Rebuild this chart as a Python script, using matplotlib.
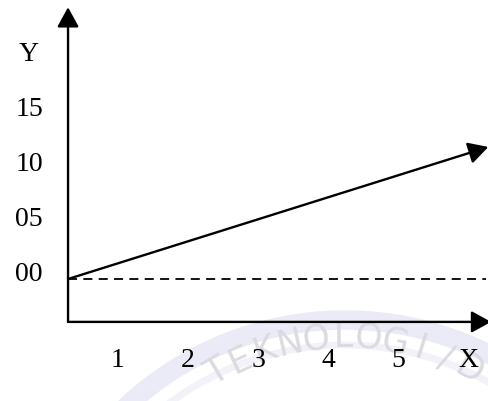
import matplotlib
matplotlib.use("Agg")
import numpy as np
import matplotlib.pyplot as plt
from matplotlib.patches import FancyArrowPatch, Arc

# ---- data ----
x_tick_pos = [1, 2, 3, 4, 5, 6]
x_tick_labels = ["1", "2", "3", "4", "5", "X"]
y_tick_pos = [0, 5, 10, 15, 20]
y_tick_labels = ["00", "05", "10", "15", "Y"]
line_x = [0.286, 6.29]
line_y = [0, 12]
dash_x = [0.286, 6.26]
dash_y = [0, 0]
axis_origin = (0.286, -3.9)
x_axis_end = 6.33
y_axis_end = 24.7
watermark_text = "TEKNOLOGI/D"

plt.rcParams["font.family"] = ["Liberation Serif", "DejaVu Serif"]

W, H = 489, 401
fig = plt.figure(figsize=(W / 100, H / 100), dpi=100)

# faint watermark layer (figure pixel coords, y measured from top)
wm = fig.add_axes([0, 0, 1, 1], zorder=0)
wm.set_xlim(0, W)
wm.set_ylim(H, 0)
wm.axis("off")
wm.add_patch(Arc((345, 640), 640, 640, theta1=-175, theta2=-20,
                 lw=14, color="#ebebf7"))
wm.add_patch(Arc((345, 640), 590, 590, theta1=-150, theta2=-35,
                 lw=5, color="#f2f2f9"))
cx, cy, r = 345, 585, 248
angs = np.linspace(121, 60, len(watermark_text))
for ch, a in zip(watermark_text, angs):
    t = np.deg2rad(a)
    wm.text(cx + r * np.cos(t), cy - r * np.sin(t), ch, rotation=a - 90,
            ha="center", va="center", fontsize=25, color="#dadae0",
            family=["DejaVu Sans"], rotation_mode="anchor")

ax = fig.add_axes([0, 0, 1, 1], zorder=1)
ax.patch.set_alpha(0)
ax.set_xlim(-0.686, 6.3)
ax.set_ylim(-11.09, 25.36)
ax.axis("off")

def arrow(p0, p1):
    a = FancyArrowPatch(p0, p1, arrowstyle="-|>,head_length=0.6,head_width=0.33",
                        mutation_scale=20, lw=1.7, color="black",
                        shrinkA=0, shrinkB=0, clip_on=False)
    ax.add_patch(a)

# axes
arrow(axis_origin, (x_axis_end, axis_origin[1]))
arrow(axis_origin, (axis_origin[0], y_axis_end))

# dashed baseline
ax.plot(dash_x, dash_y, color="black", lw=1.3, dashes=(5, 3.5))

# solid line with arrow
arrow((line_x[0], line_y[0]), (line_x[1], line_y[1]))

# labels
for xp, lab in zip(x_tick_pos, x_tick_labels):
    ax.annotate(lab, (xp, -7.4), ha="center", va="center", fontsize=20)
for yp, lab in zip(y_tick_pos, y_tick_labels):
    ax.annotate(lab, (-0.686, yp), xytext=(21, 3), textcoords="offset points",
                ha="center", va="center", fontsize=20)

fig.savefig("out.png", dpi=100)
